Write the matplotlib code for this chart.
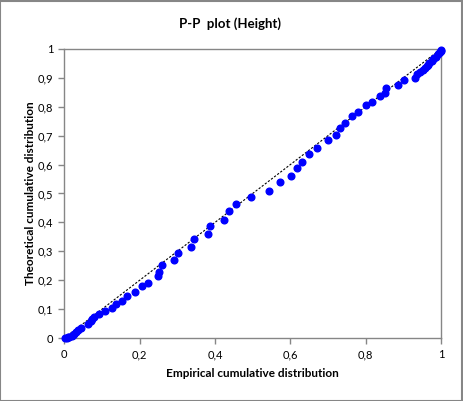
import numpy as np
import matplotlib
matplotlib.use('Agg')
import matplotlib.pyplot as plt
from matplotlib.patches import Rectangle
from matplotlib.ticker import FuncFormatter

plt.rcParams['font.family'] = ['Lato', 'DejaVu Sans']

# empirical vs theoretical cumulative distribution
empirical = [0.001, 0.006, 0.009, 0.013, 0.019, 0.023, 0.025, 0.031, 0.037, 0.043,
             0.063, 0.070, 0.074, 0.078, 0.092, 0.108, 0.126, 0.137, 0.154, 0.166,
             0.187, 0.206, 0.222, 0.248, 0.250, 0.258, 0.291, 0.301, 0.336, 0.344,
             0.381, 0.386, 0.423, 0.437, 0.456, 0.495, 0.542, 0.572, 0.602, 0.617,
             0.630, 0.649, 0.670, 0.700, 0.721, 0.732, 0.745, 0.764, 0.780, 0.801,
             0.816, 0.838, 0.851, 0.854, 0.885, 0.902, 0.931, 0.935, 0.944, 0.952,
             0.958, 0.962, 0.966, 0.969, 0.975, 0.980, 0.982, 0.986, 0.991, 0.994,
             0.997, 1.000, 1.000]
theoretical = [0.000, 0.001, 0.003, 0.005, 0.008, 0.012, 0.015, 0.021, 0.028, 0.035,
               0.048, 0.059, 0.066, 0.073, 0.083, 0.093, 0.104, 0.118, 0.129, 0.145,
               0.159, 0.180, 0.190, 0.215, 0.228, 0.253, 0.270, 0.294, 0.316, 0.343,
               0.361, 0.389, 0.408, 0.440, 0.463, 0.489, 0.509, 0.540, 0.561, 0.589,
               0.610, 0.637, 0.657, 0.686, 0.702, 0.727, 0.744, 0.768, 0.783, 0.806,
               0.817, 0.837, 0.848, 0.866, 0.875, 0.894, 0.900, 0.912, 0.921, 0.927,
               0.933, 0.942, 0.946, 0.950, 0.958, 0.965, 0.969, 0.973, 0.982, 0.986,
               0.989, 0.994, 0.997]

ticks = [0, 0.1, 0.2, 0.3, 0.4, 0.5, 0.6, 0.7, 0.8, 0.9, 1]
xticks = [0, 0.2, 0.4, 0.6, 0.8, 1]

gray = '#868686'

fig = plt.figure(figsize=(4.63, 4.01), dpi=100)
fig.patches.append(Rectangle((0.001, 0.001), 0.997, 0.997, transform=fig.transFigure,
                             fill=False, edgecolor=gray, lw=1.5))

ax = fig.add_axes([0.139, 0.157, 0.8135, 0.721])

ax.plot([0, 1], [0, 1], color='black', lw=0.8, linestyle=(0, (2, 1.5)), zorder=2)
ax.plot(empirical, theoretical, 'o', color='#0000ff', ms=4.8, mec='#0000ff', zorder=3,
        clip_on=False)

ax.set_xlim(0, 1)
ax.set_ylim(0, 1)
ax.set_xticks(xticks)
ax.set_yticks(ticks)

fmt = FuncFormatter(lambda v, p: ('%g' % round(v, 1)).replace('.', ','))
ax.xaxis.set_major_formatter(fmt)
ax.yaxis.set_major_formatter(fmt)

for s in ax.spines.values():
    s.set_color(gray)
    s.set_linewidth(1)
ax.tick_params(direction='out', length=4, width=1, color=gray, labelsize=8, pad=4)

ax.set_xlabel('Empirical cumulative distribution', fontsize=8.5, fontweight='bold', labelpad=6)
ax.set_ylabel('Theoretical cumulative distribution', fontsize=8.5, fontweight='bold', labelpad=1)
fig.text(0.497, 0.942, 'P-P  plot (Height)', ha='center', va='center',
         fontsize=9.5, fontweight='bold')

fig.savefig('out.png', dpi=100)
